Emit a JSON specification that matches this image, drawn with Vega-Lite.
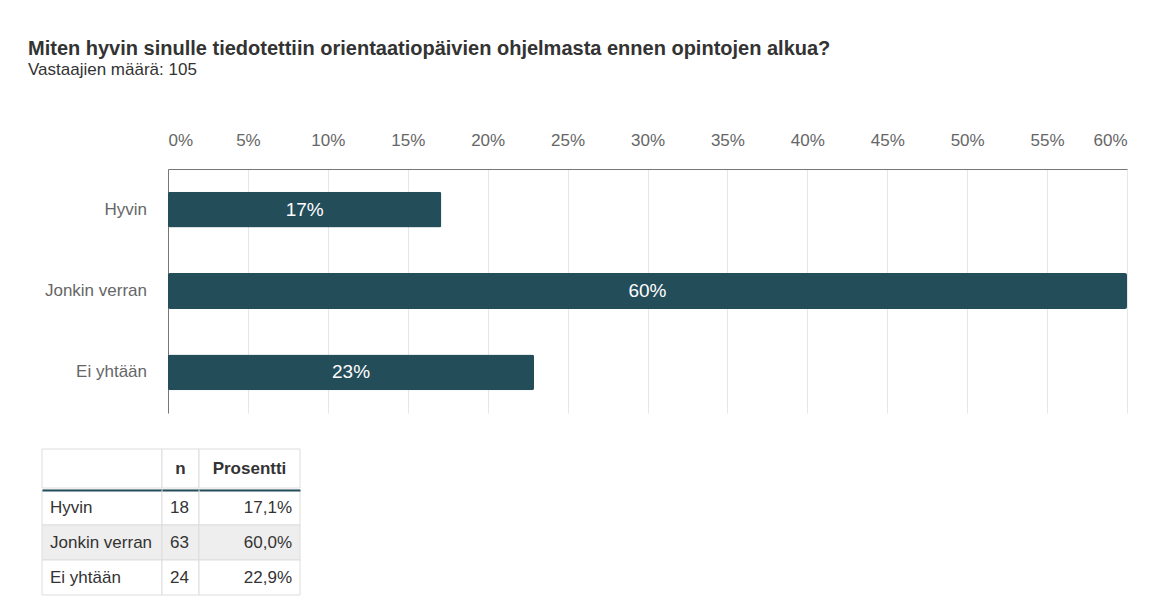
{
  "$schema": "https://vega.github.io/schema/vega-lite/v6.json",
  "background": "white",
  "padding": {"left": 28, "top": 39, "right": 5, "bottom": 0},
  "title": {
    "text": "Miten hyvin sinulle tiedotettiin orientaatiopäivien ohjelmasta ennen opintojen alkua?",
    "subtitle": "Vastaajien määrä: 105",
    "anchor": "start",
    "frame": "group",
    "dx": -14,
    "fontSize": 20,
    "fontWeight": "bold",
    "color": "#333333",
    "subtitleFontSize": 17,
    "subtitleColor": "#333333",
    "subtitlePadding": 3,
    "offset": 53,
    "font": "Liberation Sans",
    "subtitleFont": "Liberation Sans"
  },
  "datasets": {
    "rows": [
      {"k": "Hyvin", "n": 18, "p": 0.171, "pt": "17,1%"},
      {"k": "Jonkin verran", "n": 63, "p": 0.6, "pt": "60,0%"},
      {"k": "Ei yhtään", "n": 24, "p": 0.229, "pt": "22,9%"}
    ]
  },
  "config": {
    "view": {"stroke": null},
    "font": "Liberation Sans"
  },
  "vconcat": [
    {
      "hconcat": [
        {
          "width": 126,
          "height": 244,
          "data": {"name": "rows"},
          "mark": {"type": "text", "align": "right", "dx": -21, "fontSize": 17, "color": "#666666"},
          "encoding": {
            "y": {"field": "k", "type": "nominal", "sort": null, "scale": {"type": "band", "paddingInner": 0.56, "paddingOuter": 0.28}, "axis": null},
            "x": {"datum": 1, "type": "quantitative", "scale": {"domain": [0, 1]}, "axis": null},
            "text": {"field": "k"}
          }
        },
        {
          "width": 959,
          "height": 244,
          "data": {"name": "rows"},
          "encoding": {
            "y": {
              "field": "k", "type": "nominal", "sort": null,
              "scale": {"paddingInner": 0.56, "paddingOuter": 0.28},
              "axis": {"title": null, "ticks": false, "labels": false, "domainColor": "#777777"}
            }
          },
          "layer": [
            {
              "mark": {"type": "bar", "color": "#244d5a", "cornerRadius": 2},
              "encoding": {
                "x": {
                  "field": "p", "type": "quantitative",
                  "scale": {"domain": [0, 0.6], "nice": false},
                  "axis": {"orient": "top", "format": ".0%", "values": [0, 0.05, 0.1, 0.15, 0.2, 0.25, 0.3, 0.35, 0.4, 0.45, 0.5, 0.55, 0.6], "title": null, "ticks": false, "labelPadding": 20, "labelFontSize": 17, "labelColor": "#666666", "domainColor": "#777777", "gridColor": "#e6e6e6"}
                }
              }
            },
            {
              "transform": [{"calculate": "datum.p / 2", "as": "mid"}],
              "mark": {"type": "text", "color": "white", "fontSize": 19},
              "encoding": {
                "x": {"field": "mid", "type": "quantitative"},
                "text": {"field": "p", "format": ".0%"}
              }
            }
          ]
        }
      ],
      "spacing": 0,
      "bounds": "flush"
    },
    {
      "vconcat": [
        {
          "hconcat": [
            {
              "width": 120, "height": 39,
              "data": {"values": [{"h": ""}]},
              "layer": [
                {"mark": {"type": "rect", "fill": "white", "stroke": "#dddddd"}, "encoding": {}},
                {"mark": {"type": "text", "fontWeight": "bold", "fontSize": 17, "color": "#333333"}, "encoding": {"x": {"field": "h", "type": "nominal", "axis": null}, "text": {"field": "h"}}}
              ]
            },
            {
              "width": 37, "height": 39,
              "data": {"values": [{"h": "n"}]},
              "layer": [
                {"mark": {"type": "rect", "fill": "white", "stroke": "#dddddd"}, "encoding": {}},
                {"mark": {"type": "text", "fontWeight": "bold", "fontSize": 17, "color": "#333333"}, "encoding": {"x": {"field": "h", "type": "nominal", "axis": null}, "text": {"field": "h"}}}
              ]
            },
            {
              "width": 101, "height": 39,
              "data": {"values": [{"h": "Prosentti"}]},
              "layer": [
                {"mark": {"type": "rect", "fill": "white", "stroke": "#dddddd"}, "encoding": {}},
                {"mark": {"type": "text", "fontWeight": "bold", "fontSize": 17, "color": "#333333"}, "encoding": {"x": {"field": "h", "type": "nominal", "axis": null}, "text": {"field": "h"}}}
              ]
            }
          ],
          "spacing": 0,
          "bounds": "flush"
        },
        {
          "hconcat": [
            {
              "width": 120, "height": 105,
              "data": {"name": "rows"},
              "layer": [
                {"mark": {"type": "rect", "stroke": "#dddddd", "strokeWidth": 1}, "encoding": {"y": {"field": "k", "type": "nominal", "sort": null, "scale": {"paddingInner": 0, "paddingOuter": 0}, "axis": null}, "fill": {"condition": {"test": "datum.k === 'Jonkin verran'", "value": "#eeeeee"}, "value": "white"}}},
                {"mark": {"type": "text", "align": "left", "dx": 8, "fontSize": 17, "color": "#333333"}, "encoding": {"y": {"field": "k", "type": "nominal", "sort": null, "axis": null}, "x": {"datum": 0, "type": "quantitative", "scale": {"domain": [0, 1]}, "axis": {"orient": "top", "labels": false, "ticks": false, "grid": false, "title": null, "domainColor": "#244d5a", "domainWidth": 2, "zindex": 1}}, "text": {"field": "k"}}}
              ]
            },
            {
              "width": 37, "height": 105,
              "data": {"name": "rows"},
              "layer": [
                {"mark": {"type": "rect", "stroke": "#dddddd", "strokeWidth": 1}, "encoding": {"y": {"field": "k", "type": "nominal", "sort": null, "scale": {"paddingInner": 0, "paddingOuter": 0}, "axis": null}, "fill": {"condition": {"test": "datum.k === 'Jonkin verran'", "value": "#eeeeee"}, "value": "white"}}},
                {"mark": {"type": "text", "align": "left", "dx": 8, "fontSize": 17, "color": "#333333"}, "encoding": {"y": {"field": "k", "type": "nominal", "sort": null, "axis": null}, "x": {"datum": 0, "type": "quantitative", "scale": {"domain": [0, 1]}, "axis": {"orient": "top", "labels": false, "ticks": false, "grid": false, "title": null, "domainColor": "#244d5a", "domainWidth": 2, "zindex": 1}}, "text": {"field": "n"}}}
              ]
            },
            {
              "width": 101, "height": 105,
              "data": {"name": "rows"},
              "layer": [
                {"mark": {"type": "rect", "stroke": "#dddddd", "strokeWidth": 1}, "encoding": {"y": {"field": "k", "type": "nominal", "sort": null, "scale": {"paddingInner": 0, "paddingOuter": 0}, "axis": null}, "fill": {"condition": {"test": "datum.k === 'Jonkin verran'", "value": "#eeeeee"}, "value": "white"}}},
                {"mark": {"type": "text", "align": "right", "dx": -8, "fontSize": 17, "color": "#333333"}, "encoding": {"y": {"field": "k", "type": "nominal", "sort": null, "axis": null}, "x": {"datum": 1, "type": "quantitative", "scale": {"domain": [0, 1]}, "axis": {"orient": "top", "labels": false, "ticks": false, "grid": false, "title": null, "domainColor": "#244d5a", "domainWidth": 2, "zindex": 1}}, "text": {"field": "pt"}}}
              ]
            }
          ],
          "spacing": 0,
          "bounds": "flush"
        }
      ],
      "spacing": 0
    }
  ],
  "spacing": 35
}
